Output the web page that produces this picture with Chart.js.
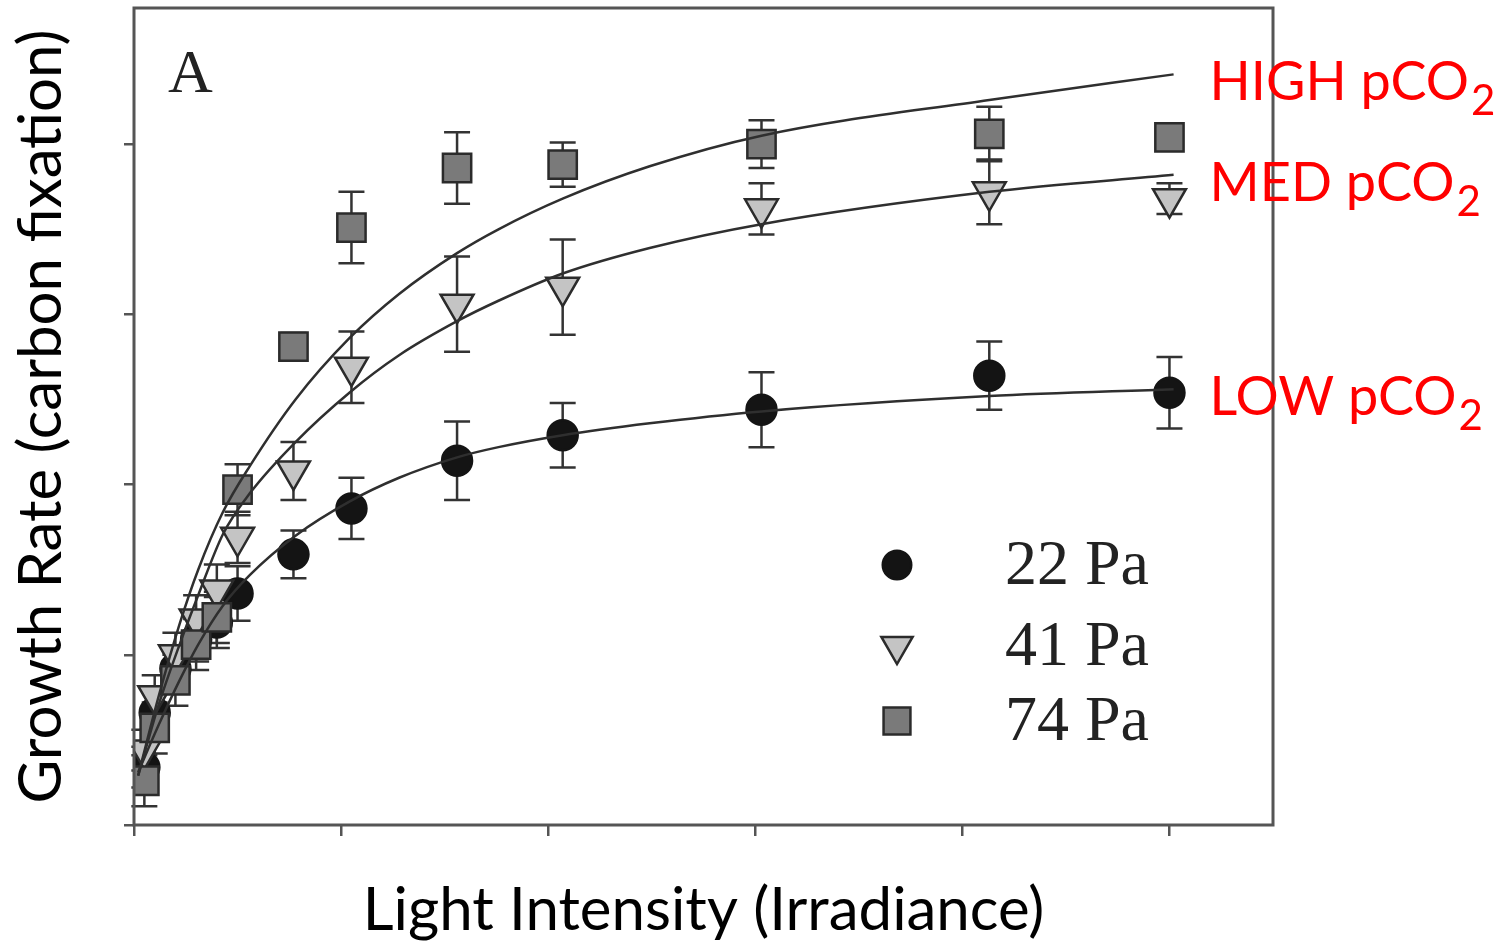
<!DOCTYPE html>
<html lang="en">
<head>
    <meta charset="UTF-8">
    <title>Growth Rate vs Light Intensity</title>
    <script src="https://cdn.jsdelivr.net/npm/chart.js"></script>
    <style>
        body {
            margin: 0;
            background: #fff;
        }

        .chart-box {
            width: 1509px;
            height: 943px;
            position: relative;
        }
    </style>
</head>
<body>

    <div class="chart-box">
        <canvas id="growthChart"></canvas>
    </div>

    <script>
        // light levels of the measured points (axis has no numbers, so arbitrary units)
        const lightLevels = [0.05, 0.10, 0.20, 0.30, 0.40, 0.50, 0.77, 1.05, 1.56, 2.07, 3.03, 4.13, 5.00];

        // 22 Pa (LOW pCO2)
        const rate22 = [0.34, 0.66, 0.92, 1.09, 1.19, 1.36, 1.59, 1.86, 2.14, 2.29, 2.44, 2.64, 2.54];
        const err22  = [0.12, 0.12, 0.13, 0.13, 0.15, 0.16, 0.14, 0.18, 0.23, 0.19, 0.22, 0.20, 0.21];

        // 41 Pa (MED pCO2)
        const rate41 = [0.44, 0.76, 1.00, 1.21, 1.38, 1.69, 2.08, 2.69, 3.06, 3.16, 3.62, 3.72, 3.68];
        const err41  = [0.12, 0.12, 0.13, 0.14, 0.15, 0.15, 0.17, 0.21, 0.28, 0.28, 0.15, 0.19, 0.09];

        // 74 Pa (HIGH pCO2)
        const rate74 = [0.26, 0.57, 0.85, 1.06, 1.22, 1.97, 2.81, 3.51, 3.86, 3.88, 4.00, 4.06, 4.04];
        const err74  = [0.15, 0.15, 0.15, 0.15, 0.15, 0.15, 0.08, 0.21, 0.21, 0.13, 0.14, 0.16, 0];

        // fitted curves
        const curveX = [0.02, 0.12, 0.22, 0.31, 0.43, 0.56, 0.78, 1.04, 1.28, 1.56, 1.76, 2.07, 2.49, 3.03, 4.13, 5.02];
        const fit22  = [0.31, 0.59, 0.85, 1.06, 1.29, 1.47, 1.70, 1.90, 2.04, 2.16, 2.22, 2.29, 2.36, 2.43, 2.52, 2.56];
        const fit41  = [0.29, 0.71, 1.06, 1.35, 1.71, 1.95, 2.25, 2.54, 2.76, 2.96, 3.08, 3.24, 3.39, 3.53, 3.72, 3.82];
        const fit74  = [0.29, 0.76, 1.18, 1.50, 1.84, 2.11, 2.50, 2.86, 3.12, 3.36, 3.50, 3.68, 3.87, 4.05, 4.26, 4.41];

        const xTickValues = [0, 1, 2, 3, 4, 5];
        const yTickValues = [0, 1, 2, 3, 4];

        const seriesLabels = ['22 Pa', '41 Pa', '74 Pa'];
        const curveLabels = ['LOW pCO', 'MED pCO', 'HIGH pCO'];
        const panelLabel = 'A';

        const toPoints = (xs, ys) => xs.map((v, i) => ({ x: v, y: ys[i] }));

        // marker looks, shared by plot and legend
        const markerStyles = [
            { shape: 'circle', r: 15, fill: '#141414', stroke: '#141414' },
            { shape: 'triangleDown', r: 19, fill: '#c4c4c4', stroke: '#2b2b2b' },
            { shape: 'square', r: 20, fill: '#7a7a7a', stroke: '#2b2b2b' }
        ];

        function drawMarker(ctx, m, x, y, scale) {
            const r = m.r * (scale || 1);
            ctx.beginPath();
            if (m.shape === 'circle') {
                ctx.arc(x, y, r, 0, Math.PI * 2);
            } else if (m.shape === 'triangleDown') {
                const h = r * Math.sin(Math.PI / 3);
                ctx.moveTo(x - h, y - r / 2);
                ctx.lineTo(x + h, y - r / 2);
                ctx.lineTo(x, y + r);
                ctx.closePath();
            } else {
                const s = r * Math.SQRT1_2;
                ctx.rect(x - s, y - s, 2 * s, 2 * s);
            }
            ctx.fillStyle = m.fill;
            ctx.fill();
            ctx.lineWidth = 2.5;
            ctx.strokeStyle = m.stroke;
            ctx.stroke();
        }

        // error bars under the markers
        const errorBarPlugin = {
            id: 'errorBars',
            beforeDatasetsDraw(chart) {
                const { ctx, scales: { x, y } } = chart;
                ctx.save();
                ctx.strokeStyle = '#333';
                ctx.lineWidth = 2.5;
                chart.data.datasets.forEach(ds => {
                    if (!ds.errors) return;
                    ds.data.forEach((pt, j) => {
                        const e = ds.errors[j];
                        if (!e) return;
                        const px = x.getPixelForValue(pt.x);
                        const top = y.getPixelForValue(pt.y + e);
                        const bot = y.getPixelForValue(pt.y - e);
                        ctx.beginPath();
                        ctx.moveTo(px, top);
                        ctx.lineTo(px, bot);
                        ctx.moveTo(px - 13, top);
                        ctx.lineTo(px + 13, top);
                        ctx.moveTo(px - 13, bot);
                        ctx.lineTo(px + 13, bot);
                        ctx.stroke();
                    });
                });
                ctx.restore();
            }
        };

        // frame, panel letter, legend and the red pCO2 labels
        const decorPlugin = {
            id: 'decor',
            afterDraw(chart) {
                const { ctx, chartArea: a, scales: { x, y } } = chart;
                ctx.save();

                ctx.strokeStyle = '#555';
                ctx.lineWidth = 3;
                ctx.strokeRect(a.left, a.top, a.right - a.left, a.bottom - a.top);

                ctx.fillStyle = '#222';
                ctx.font = '62px "Liberation Serif"';
                ctx.textBaseline = 'alphabetic';
                ctx.fillText(panelLabel, a.left + 34, a.top + 84);

                // legend in lower right of the plot
                const rowY = [a.bottom - 260, a.bottom - 179, a.bottom - 104];
                ctx.font = '64px "Liberation Serif"';
                ctx.textBaseline = 'middle';
                seriesLabels.forEach((lbl, i) => {
                    drawMarker(ctx, markerStyles[i], a.right - 376, rowY[i], 0.95);
                    ctx.fillStyle = '#222';
                    ctx.fillText(lbl, a.right - 268, rowY[i] + 2);
                });

                // red labels next to the end of each fitted curve
                const fits = [fit22, fit41, fit74];
                const lastX = curveX[curveX.length - 1];
                ctx.fillStyle = '#ff0000';
                ctx.textBaseline = 'alphabetic';
                fits.forEach((f, i) => {
                    const px = x.getPixelForValue(lastX) + 36;
                    const py = y.getPixelForValue(f[f.length - 1]) + 26;
                    ctx.font = '54px Lato';
                    ctx.fillText(curveLabels[i], px, py);
                    const w = ctx.measureText(curveLabels[i]).width;
                    ctx.font = '42px Lato';
                    ctx.fillText('2', px + w + 2, py + 15);
                });

                ctx.restore();
            }
        };

        const curveStyle = {
            type: 'line',
            pointRadius: 0,
            borderColor: '#2f2f2f',
            borderWidth: 2.5,
            fill: false,
            cubicInterpolationMode: 'monotone'
        };

        const pointDatasets = [rate22, rate41, rate74].map((rates, i) => {
            const m = markerStyles[i];
            return {
                type: 'scatter',
                label: seriesLabels[i],
                data: toPoints(lightLevels, rates),
                errors: [err22, err41, err74][i],
                pointStyle: m.shape === 'circle' ? 'circle' : (m.shape === 'square' ? 'rect' : 'triangle'),
                rotation: m.shape === 'triangleDown' ? 180 : 0,
                pointRadius: m.r,
                pointBackgroundColor: m.fill,
                pointBorderColor: m.stroke,
                pointBorderWidth: 2.5,
                showLine: false
            };
        });

        const ctx = document.getElementById('growthChart').getContext('2d');
        const growthChart = new Chart(ctx, {
            data: {
                // earlier datasets are painted on top: curves, then squares, triangles, circles
                datasets: [
                    Object.assign({ label: 'fit 22', data: toPoints(curveX, fit22) }, curveStyle),
                    Object.assign({ label: 'fit 41', data: toPoints(curveX, fit41) }, curveStyle),
                    Object.assign({ label: 'fit 74', data: toPoints(curveX, fit74) }, curveStyle),
                    pointDatasets[2],
                    pointDatasets[1],
                    pointDatasets[0]
                ]
            },
            options: {
                responsive: true,
                maintainAspectRatio: false,
                animation: false,
                layout: {
                    autoPadding: false,
                    padding: { left: 12, top: 8, right: 236, bottom: 0 }
                },
                plugins: {
                    legend: { display: false },
                    tooltip: { enabled: false }
                },
                scales: {
                    x: {
                        type: 'linear',
                        min: 0,
                        max: 5.5,
                        afterBuildTicks: s => { s.ticks = xTickValues.map(v => ({ value: v })); },
                        afterFit: s => { s.height = 118; },
                        ticks: { display: false },
                        border: { display: false },
                        grid: {
                            drawOnChartArea: false,
                            tickLength: 11,
                            color: '#555',
                            lineWidth: 2.5
                        },
                        title: {
                            display: true,
                            text: 'Light Intensity (Irradiance)',
                            color: '#000',
                            font: { family: 'Lato', size: 60, lineHeight: 1 },
                            padding: { top: 0, bottom: 2 }
                        }
                    },
                    y: {
                        type: 'linear',
                        min: 0,
                        max: 4.8,
                        afterBuildTicks: s => { s.ticks = yTickValues.map(v => ({ value: v })); },
                        afterFit: s => { s.width = 122; },
                        ticks: { display: false },
                        border: { display: false },
                        grid: {
                            drawOnChartArea: false,
                            tickLength: 10,
                            color: '#555',
                            lineWidth: 2.5
                        },
                        title: {
                            display: true,
                            text: 'Growth Rate (carbon fixation)',
                            color: '#000',
                            font: { family: 'Lato', size: 60, lineHeight: 1 },
                            padding: { top: 0, bottom: 0 }
                        }
                    }
                }
            },
            plugins: [errorBarPlugin, decorPlugin]
        });
    </script>

</body>
</html>
